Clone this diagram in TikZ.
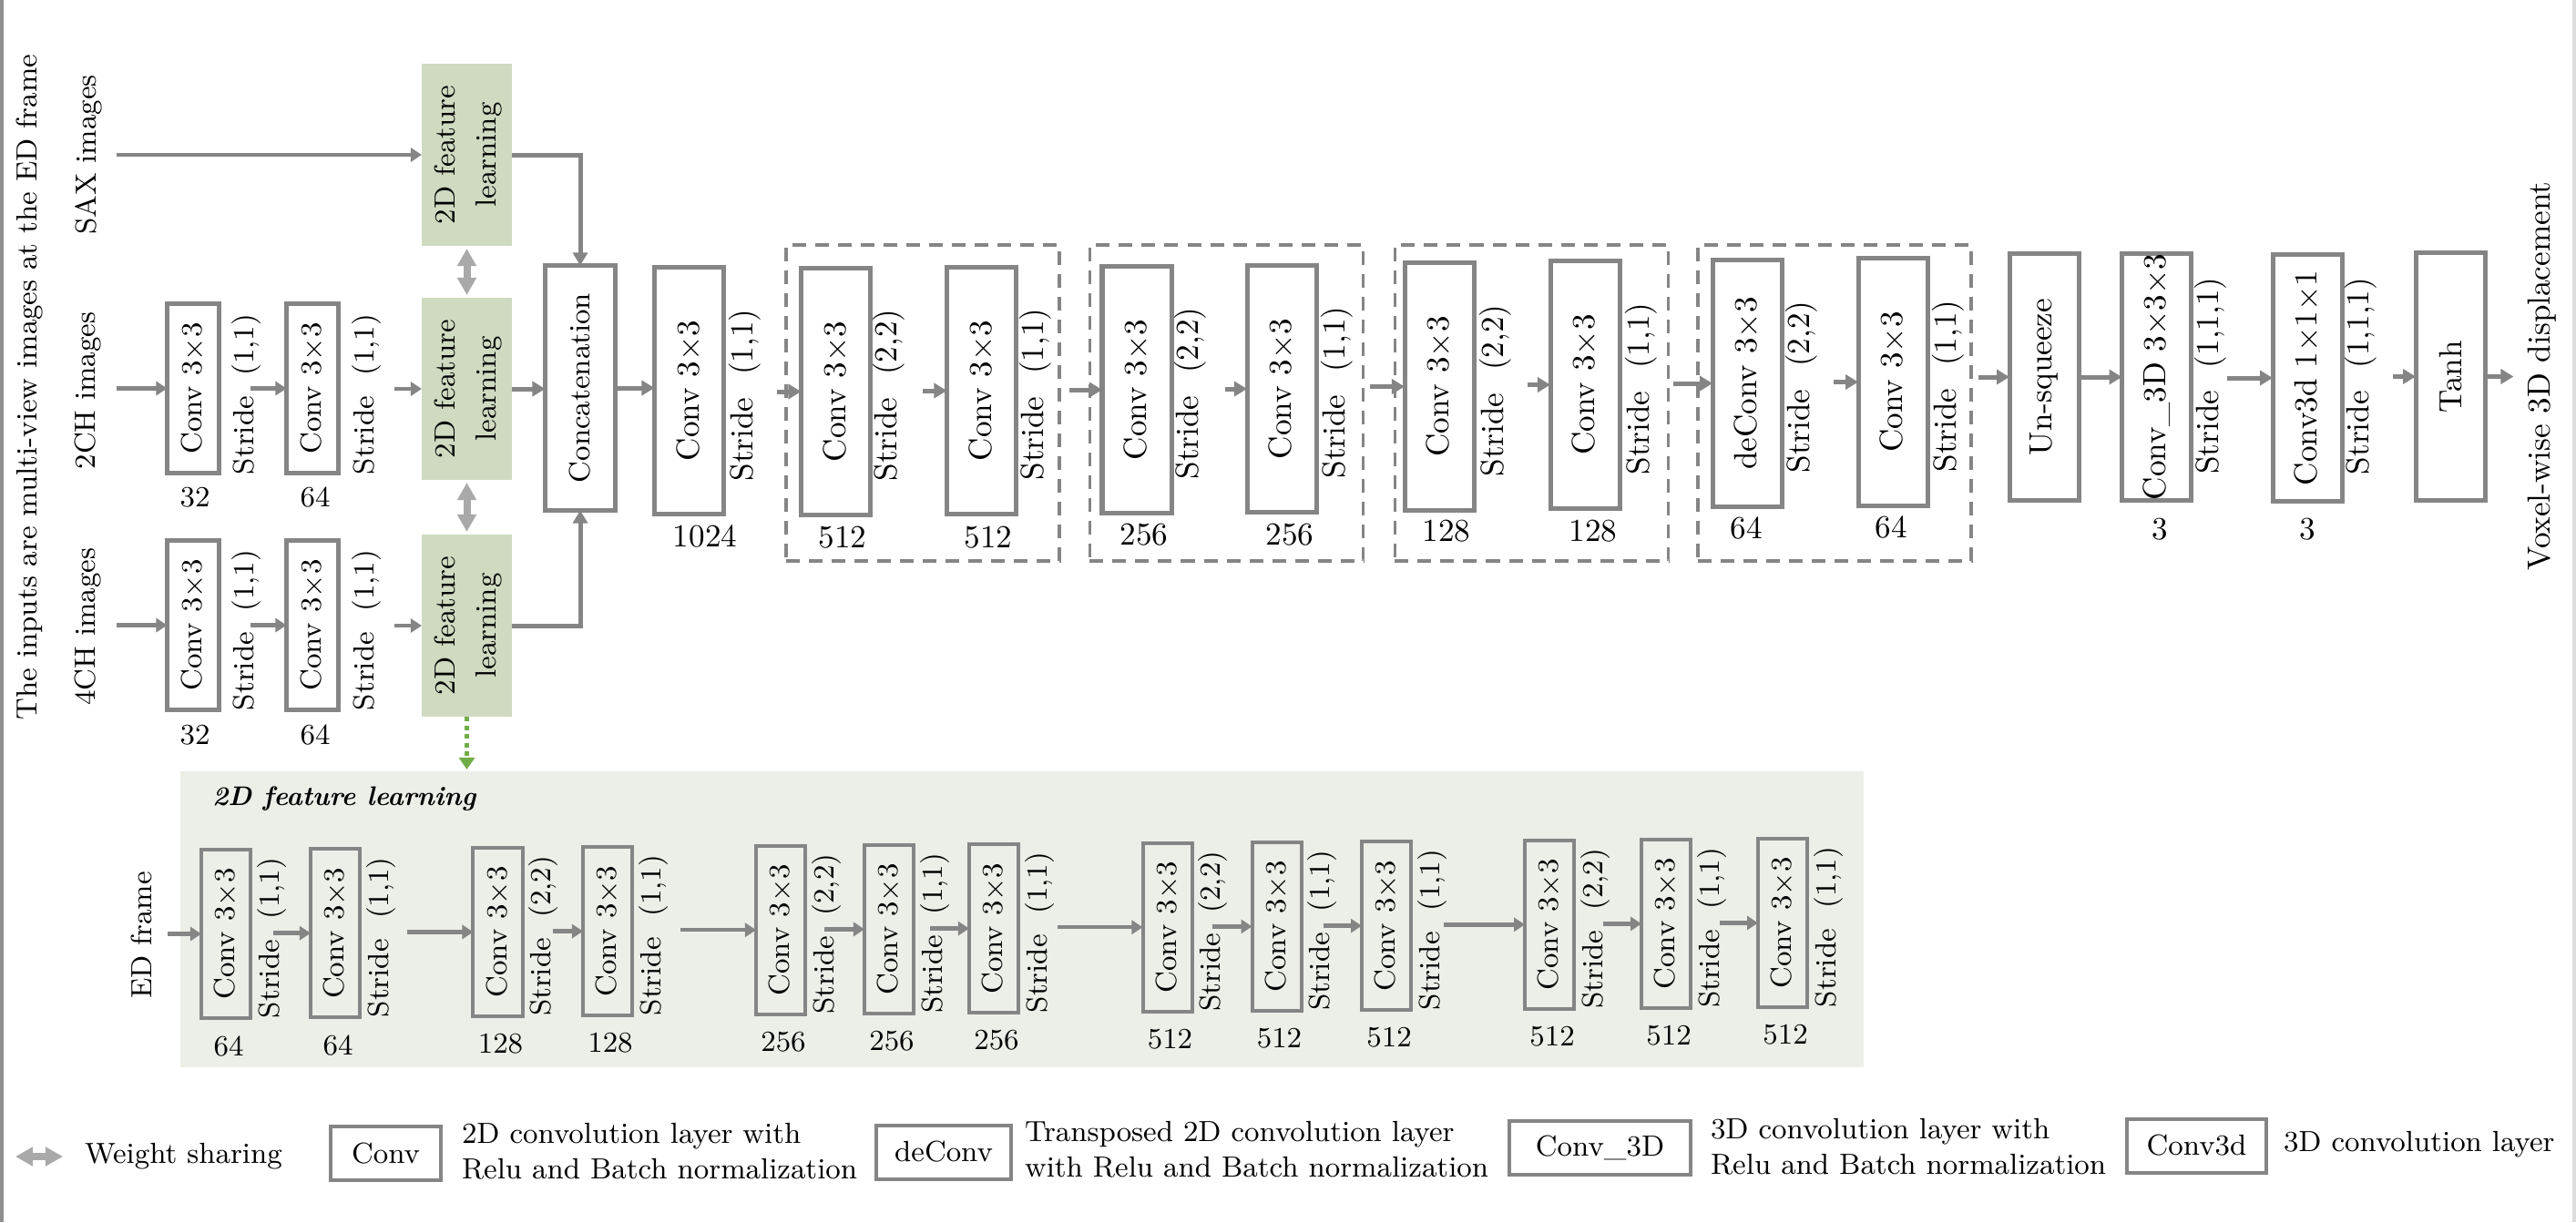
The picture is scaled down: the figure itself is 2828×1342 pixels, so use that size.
\documentclass[tikz,border=0pt]{standalone}
\usepackage{graphicx}
\usetikzlibrary{arrows.meta,calc}

\definecolor{lineg}{HTML}{858585}
\definecolor{shareg}{HTML}{A9A9A9}
\definecolor{featg}{HTML}{CFDAC1}
\definecolor{panelg}{HTML}{ECEEE8}
\definecolor{dotg}{HTML}{70AD47}
\definecolor{edgeg}{HTML}{8F8F8F}
\definecolor{edgel}{HTML}{DDDDDD}

% vertical text and stride labels
\newcommand{\vtext}[1]{\rotatebox{90}{#1}}
\newcommand{\strd}[1]{\vtext{Stride\hspace{0.7em}(#1)}}

% one Conv 3x3 layer of the feature-learning panel: name, x, y, stride, channels
\newcommand{\panelconv}[5]{%
  \node[panellayer] (p#1) at (#2,#3) {\vtext{Conv 3$\times$3}};
  \node[fsm] (ps#1) at ($(p#1)+(50,4.5)$) {\strd{#4}};
  \node[fsm] (pn#1) at ($(p#1)+(3,123)$) {#5};
}

\begin{document}
\begin{tikzpicture}[x=0.01cm,y=-0.01cm,
  every node/.style={inner sep=0pt, outer sep=0pt},
  fsm/.style={font=\fontsize{9.1}{11.1}\selectfont},
  fbig/.style={font=\fontsize{10}{12}\selectfont},
  layer/.style={draw=lineg, line width=0.05cm, fill=white, minimum width=0.76cm, minimum height=2.71cm, fbig},
  smalllayer/.style={draw=lineg, line width=0.045cm, fill=white, minimum width=0.57cm, minimum height=1.86cm, fsm},
  panellayer/.style={draw=lineg, line width=0.04cm, minimum width=0.54cm, minimum height=1.85cm, fsm},
  feat/.style={fill=featg, minimum width=0.99cm, minimum height=2.0cm, font=\fontsize{9.1}{12.8}\selectfont},
  grp/.style={draw=lineg, line width=0.035cm, dash pattern=on 0.15cm off 0.1cm, minimum width=3.0cm, minimum height=3.47cm},
  arr/.style={draw=lineg, line width=0.05cm, -{Triangle[width=0.16cm,length=0.14cm]}},
  sarr/.style={draw=lineg, line width=0.045cm, -{Triangle[width=0.15cm,length=0.12cm]}},
  share/.style={draw=shareg, line width=0.08cm, {Triangle[width=0.2cm,length=0.19cm]}-{Triangle[width=0.2cm,length=0.19cm]}},
  greendots/.style={draw=dotg, line width=0.05cm, dash pattern=on 0.05cm off 0.045cm, -{Triangle[width=0.17cm,length=0.13cm]}},
  legbox/.style={draw=lineg, line width=0.04cm, fill=white, minimum height=0.59cm, fsm},
]

% page
\fill[white] (0,0) rectangle (2828,1342);
\useasboundingbox (0,0) rectangle (2828,1342);
\fill[edgeg] (0,0) rectangle (4,1342);
\fill[edgel] (2824,0) rectangle (2828,1342);

% ---------------- inputs ----------------
\node[fsm] (title) at (33,425) {\vtext{The inputs are multi-view images at the ED frame}};
\node[fsm] (lsax) at (97,170) {\vtext{SAX images}};
\node[fsm] (l2ch) at (97,429) {\vtext{2CH images}};
\node[fsm] (l4ch) at (97,688) {\vtext{4CH images}};

% shared 2D feature learning blocks
\node[feat] (g1) at (512.5,170) {\vtext{\begin{tabular}{@{}c@{}}2D feature\\learning\end{tabular}}};
\node[feat] (g2) at (512.5,427) {\vtext{\begin{tabular}{@{}c@{}}2D feature\\learning\end{tabular}}};
\node[feat] (g3) at (512.5,687) {\vtext{\begin{tabular}{@{}c@{}}2D feature\\learning\end{tabular}}};

% 2CH branch
\node[smalllayer] (a1) at (212,426.5) {\vtext{Conv 3$\times$3}};
\node[smalllayer] (a2) at (343,426.5) {\vtext{Conv 3$\times$3}};
\node[fsm] (sa1) at (270,433) {\strd{1,1}};
\node[fsm] (sa2) at (402,433) {\strd{1,1}};
\node[fsm] (na1) at (214,546) {32};
\node[fsm] (na2) at (346,546) {64};

% 4CH branch
\node[smalllayer] (b1) at (212,686.5) {\vtext{Conv 3$\times$3}};
\node[smalllayer] (b2) at (343,686.5) {\vtext{Conv 3$\times$3}};
\node[fsm] (sb1) at (270,692) {\strd{1,1}};
\node[fsm] (sb2) at (402,692) {\strd{1,1}};
\node[fsm] (nb1) at (214,807) {32};
\node[fsm] (nb2) at (346,807) {64};

% concatenation
\node[layer, fsm, minimum width=0.77cm, minimum height=2.69cm] (cat) at (637,426) {\vtext{Concatenation}};

% input connectors
\draw[sarr] ($(lsax.east |- g1.west)+(16,0)$) -- (g1.west);
\draw[sarr] ($(l2ch.east |- a1.west)+(16,0)$) -- (a1.west);
\draw[sarr] ($(a2.west)+(-39,0)$) -- (a2.west);
\draw[sarr] ($(g2.west)+(-30,0)$) -- (g2.west);
\draw[sarr] ($(l4ch.east |- b1.west)+(16,0)$) -- (b1.west);
\draw[sarr] ($(b2.west)+(-39,0)$) -- (b2.west);
\draw[sarr] ($(g3.west)+(-30,0)$) -- (g3.west);

\draw[arr] (g1.east) -| (cat.north);
\draw[arr] (g3.east) -| (cat.south);
\draw[arr] (g2.east) -- (g2.east -| cat.west);

% weight sharing
\draw[share] ([yshift=-0.03cm]g1.south) -- ([yshift=0.03cm]g2.north);
\draw[share] ([yshift=-0.03cm]g2.south) -- ([yshift=0.03cm]g3.north);

% ---------------- main path ----------------
\node[grp] (grp1) at (1013,442.5) {};
\node[grp] (grp2) at (1346.5,442.5) {};
\node[grp] (grp3) at (1681.5,442.5) {};
\node[grp] (grp4) at (2014,442.5) {};

\node[layer] (c1024) at (756.5,429) {\vtext{Conv 3$\times$3}};
\node[fbig] (s1024) at (818,434) {\strd{1,1}};
\node[fbig] (n1024) at (774,589) {1024};

\node[layer] (c512a) at (917.5,430) {\vtext{Conv 3$\times$3}};
\node[fbig] (s512a) at (976,434) {\strd{2,2}};
\node[fbig] (n512a) at (925,590) {512};

\node[layer] (c512b) at (1077.5,429) {\vtext{Conv 3$\times$3}};
\node[fbig] (s512b) at (1137,433) {\strd{1,1}};
\node[fbig] (n512b) at (1085,590) {512};

\node[layer] (c256a) at (1248,428) {\vtext{Conv 3$\times$3}};
\node[fbig] (s256a) at (1307,432) {\strd{2,2}};
\node[fbig] (n256a) at (1256,587) {256};

\node[layer] (c256b) at (1407,427) {\vtext{Conv 3$\times$3}};
\node[fbig] (s256b) at (1468,431) {\strd{1,1}};
\node[fbig] (n256b) at (1416,587) {256};

\node[layer] (c128a) at (1580,424.5) {\vtext{Conv 3$\times$3}};
\node[fbig] (s128a) at (1642,429) {\strd{2,2}};
\node[fbig] (n128a) at (1588,583) {128};

\node[layer] (c128b) at (1740,422.5) {\vtext{Conv 3$\times$3}};
\node[fbig] (s128b) at (1802,427) {\strd{1,1}};
\node[fbig] (n128b) at (1749,583) {128};

\node[layer] (dc64) at (1918,421) {\vtext{deConv 3$\times$3}};
\node[fbig] (sdc64) at (1978,425) {\strd{2,2}};
\node[fbig] (ndc64) at (1917,580) {64};

\node[layer] (c64) at (2078,419.5) {\vtext{Conv 3$\times$3}};
\node[fbig] (sc64) at (2139,424) {\strd{1,1}};
\node[fbig] (nc64) at (2076,579) {64};

\node[layer] (unsq) at (2244,414) {\vtext{Un-squeeze}};

\node[layer] (c3D) at (2367.5,414) {\vtext{Conv\_3D 3$\times$3$\times$3}};
\node[fbig] (sc3D) at (2427,412.5) {\strd{1,1,1}};
\node[fbig] (nc3D) at (2371,581) {3};

\node[layer] (c3d) at (2533,415) {\vtext{Conv3d 1$\times$1$\times$1}};
\node[fbig] (sc3d) at (2592,413) {\strd{1,1,1}};
\node[fbig] (nc3d) at (2533,581) {3};

\node[layer] (tanh) at (2690,413.5) {\vtext{Tanh}};
\node[fbig] (out) at (2791,413) {\vtext{Voxel-wise 3D displacement}};

% main path connectors
\draw[arr] (cat.east) -- (cat.east -| c1024.west);
\draw[arr] ($(c512a.west)+(-26,0)$) -- (c512a.west);
\draw[arr] ($(c512b.west)+(-26,0)$) -- (c512b.west);
\draw[arr] ($(c256a.west)+(-36,0)$) -- (c256a.west);
\draw[arr] ($(c256b.west)+(-24,0)$) -- (c256b.west);
\draw[arr] ($(c128a.west)+(-38,0)$) -- (c128a.west);
\draw[arr] ($(c128b.west)+(-25,0)$) -- (c128b.west);
\draw[arr] ($(dc64.west)+(-43,0)$) -- (dc64.west);
\draw[arr] ($(c64.west)+(-27,0)$) -- (c64.west);
\draw[arr] ($(unsq.west)+(-34,0)$) -- (unsq.west);
\draw[arr] (unsq.east) -- (c3D.west);
\draw[arr] ($(c3d.west)+(-50,0)$) -- (c3d.west);
\draw[arr] ($(tanh.west)+(-25,0)$) -- (tanh.west);
\coordinate (outpt) at ($(tanh.east -| out.west)+(-16,0)$);
\draw[arr] (tanh.east) -- (outpt);

% ---------------- 2D feature learning panel ----------------
\node[fill=panelg, minimum width=18.46cm, minimum height=3.25cm] (panel) at (1122,1009.5) {};
\node[font=\fontsize{8.4}{10}\selectfont, anchor=west] (ptitle) at (233,877) {\bfseries\itshape 2D feature learning};
\node[fsm] (led) at (155,1027) {\vtext{ED frame}};

\draw[greendots] (g3.south) -- ($(g3.south |- panel.north)+(0,-2)$);

\panelconv{1}{248}{1025.5}{1,1}{64}
\panelconv{2}{368}{1024.7}{1,1}{64}
\panelconv{3}{546.5}{1023.4}{2,2}{128}
\panelconv{4}{667}{1022.6}{1,1}{128}
\panelconv{5}{857}{1021.2}{2,2}{256}
\panelconv{6}{976}{1020.4}{1,1}{256}
\panelconv{7}{1091}{1019.6}{1,1}{256}
\panelconv{8}{1281.5}{1018.2}{2,2}{512}
\panelconv{9}{1401.5}{1017.4}{1,1}{512}
\panelconv{10}{1522}{1016.6}{1,1}{512}
\panelconv{11}{1701}{1015.3}{2,2}{512}
\panelconv{12}{1829}{1014.4}{1,1}{512}
\panelconv{13}{1957}{1013.5}{1,1}{512}

\draw[sarr] ($(led.east |- p1.west)+(18,0)$) -- (p1.west);
\draw[sarr] ($(p1.east |- p2.west)+(25,0)$) -- (p2.west);
\draw[sarr] ($(p2.east |- p3.west)+(52,0)$) -- (p3.west);
\draw[sarr] ($(p3.east |- p4.west)+(33,0)$) -- (p4.west);
\draw[sarr] ($(p4.east |- p5.west)+(53,0)$) -- (p5.west);
\draw[sarr] ($(p5.east |- p6.west)+(21,0)$) -- (p6.west);
\draw[sarr] ($(p6.east |- p7.west)+(18,0)$) -- (p7.west);
\draw[sarr] ($(p7.east |- p8.west)+(43,0)$) -- (p8.west);
\draw[sarr] ($(p8.east |- p9.west)+(22,0)$) -- (p9.west);
\draw[sarr] ($(p9.east |- p10.west)+(24,0)$) -- (p10.west);
\draw[sarr] ($(p10.east |- p11.west)+(36,0)$) -- (p11.west);
\draw[sarr] ($(p11.east |- p12.west)+(32,0)$) -- (p12.west);
\draw[sarr] ($(p12.east |- p13.west)+(32,0)$) -- (p13.west);

% ---------------- legend ----------------
\coordinate (wsl) at (17,1270);
\coordinate (wsr) at (69,1270);
\draw[share] (wsl) -- (wsr);
\node[fsm, anchor=west] (lws) at (93,1270) {Weight sharing};

\node[legbox, minimum width=1.21cm] (lconv) at (423.5,1266.5) {Conv};
\node[fsm, anchor=west, align=left] (lconvt) at (507,1264) {2D convolution layer with\\Relu and Batch normalization};

\node[legbox, minimum width=1.48cm] (ldeconv) at (1036,1265) {deConv};
\node[fsm, anchor=west, align=left] (ldeconvt) at (1125,1262) {Transposed 2D convolution layer\\with Relu and Batch normalization};

\node[legbox, minimum width=1.99cm] (lc3D) at (1756.5,1260) {Conv\_3D};
\node[fsm, anchor=west, align=left] (lc3Dt) at (1878,1259) {3D convolution layer with\\Relu and Batch normalization};

\node[legbox, minimum width=1.53cm] (lc3d) at (2411.5,1258) {Conv3d};
\node[fsm, anchor=west] (lc3dt) at (2507,1257) {3D convolution layer};

\end{tikzpicture}
\end{document}
